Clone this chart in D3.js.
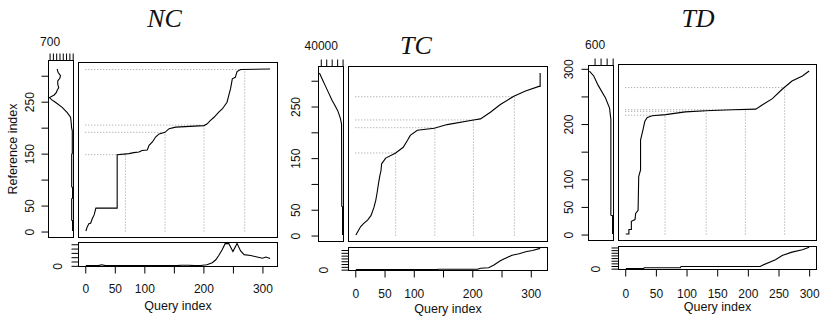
<!DOCTYPE html>
<html>
<head>
<meta charset="utf-8">
<script src="https://cdnjs.cloudflare.com/ajax/libs/d3/7.8.5/d3.min.js"></script>
<style>
  body { margin: 0; background: #fff; }
  svg text { font-family: "Liberation Sans", Arial, sans-serif; fill: #111; }
</style>
</head>
<body>
<svg id="chart" width="820" height="320"></svg>
<script>
// ---- data ----
const indexTicks = [0, 50, 100, 150, 200, 250, 300];

// NC
const ncQueryLen = 313, ncRefLen = 313;
const ncPathQ = [1, 3, 6, 9, 12, 15, 18, 54, 54, 74, 82, 91, 96, 105, 108, 114, 119, 125, 135, 142, 153, 201, 206, 212, 218, 226, 232, 240, 243, 246, 249, 254, 257, 263, 313];
const ncPathR = [1, 8, 15, 16, 25, 32, 45, 45, 148, 150, 152, 153, 156, 157, 166, 173, 182, 188, 191, 198, 201, 204, 207, 214, 220, 230, 236, 249, 262, 275, 294, 297, 308, 312, 313];
const ncMatchQ = [68, 135, 201, 270];
const ncMatchR = [148, 191, 205, 312];
const ncRefIdx = [1, 21, 22, 63, 64, 85, 86, 149, 150, 194, 200, 210, 220, 229, 239, 249, 254, 258, 263, 268, 272, 277, 283, 290, 295, 300, 306, 313];
const ncRefVal = [3, 3, 30, 30, 3, 3, 30, 30, 12, 12, 33, 45, 64, 165, 318, 524, 640, 705, 560, 493, 470, 423, 450, 453, 390, 370, 440, 472];
const ncQueryIdx = [1, 22, 28, 34, 100, 155, 162, 175, 185, 195, 206, 215, 221, 226, 232, 237, 243, 250, 257, 263, 269, 280, 291, 300, 306, 313];
const ncQueryVal = [5, 5, 25, 5, 5, 5, 15, 12, 5, 8, 26, 73, 140, 240, 380, 520, 515, 330, 520, 345, 260, 240, 205, 175, 205, 170];
const ncRefTicks = [0, 100, 200, 300, 400, 500, 600, 700];
const ncQueryTicks = [0, 100, 200, 300, 400, 500];

// TC
const tcQueryLen = 316, tcRefLen = 315;
const tcPathQ = [1, 9, 14, 21, 27, 32, 35, 37, 40, 42, 44, 45, 52, 69, 82, 89, 94, 106, 135, 157, 202, 214, 231, 248, 271, 291, 314, 316, 316];
const tcPathR = [1, 17, 23, 30, 39, 55, 68, 81, 103, 116, 126, 139, 150, 160, 171, 184, 194, 204, 208, 215, 224, 226, 239, 254, 270, 280, 289, 289, 315];
const tcMatchQ = [69, 136, 202, 272];
const tcMatchR = [160, 209, 224, 269];
const tcRefIdx = [1, 56, 57, 216, 226, 232, 242, 255, 262, 275, 291, 300, 315];
const tcRefVal = [0, 0, 1500, 1900, 3800, 5500, 8900, 15500, 19400, 25000, 32000, 36000, 42500];
const tcQueryIdx = [1, 140, 141, 209, 214, 228, 237, 248, 254, 268, 280, 293, 303, 316];
const tcQueryVal = [0, 0, 600, 700, 2500, 3500, 8400, 16000, 19000, 25800, 28500, 32300, 34200, 38000];
const tcRefTicks = [0, 10000, 20000, 30000, 40000];
const tcQueryTicks = [0, 5000, 10000, 15000, 20000, 25000, 30000, 35000];

// TD
const tdQueryLen = 300, tdRefLen = 296;
const tdPathQ = [1, 6, 6, 10, 10, 16, 17, 21, 22, 25, 25, 29, 32, 36, 44, 66, 98, 131, 175, 213, 224, 240, 256, 272, 289, 300];
const tdPathR = [1, 1, 9, 9, 24, 27, 38, 44, 105, 117, 171, 190, 205, 212, 215, 217, 222, 224, 226, 227, 235, 246, 263, 278, 287, 296];
const tdMatchQ = [65, 132, 196, 260];
const tdMatchR = [216, 223, 226, 266];
const tdRefIdx = [1, 34, 35, 210, 213, 229, 247, 270, 287, 296];
const tdRefVal = [3, 3, 60, 60, 70, 103, 237, 480, 627, 770];
const tdQueryIdx = [1, 30, 31, 90, 91, 220, 223, 245, 256, 272, 289, 300];
const tdQueryVal = [0, 0, 35, 35, 80, 80, 120, 335, 500, 625, 715, 805];
const tdRefTicks = [0, 200, 400, 600];
const tdQueryTicks = [0, 100, 200, 300, 400, 500, 600, 700, 800];

// ---- panel layout ----
const panels = [
  {
    title: 'NC', titleX: 164.5, titleY: 27, ylab: true,
    queryLen: ncQueryLen, refLen: ncRefLen,
    pathQ: ncPathQ, pathR: ncPathR, matchQ: ncMatchQ, matchR: ncMatchR,
    refIdx: ncRefIdx, refVal: ncRefVal, queryIdx: ncQueryIdx, queryVal: ncQueryVal,
    refTicks: ncRefTicks, refLabels: [700], queryTicks: ncQueryTicks,
    xLabels: [0, 50, 100, 200, 300], yLabels: [0, 50, 150, 250],
    leftLeft: 48.5, leftRight: 73.5, leftTop: 60.5,
    mainLeft: 78.5, mainRight: 277.5, mainTop: 62.5, mainBottom: 237.5,
    botTop: 242.5, botBottom: 266.5,
    topGap: 15, leftGap: 14.5, botGap: 17, xTickGap: 26.5, xlabY: 309.5
  },
  {
    title: 'TC', titleX: 416, titleY: 54, ylab: false,
    queryLen: tcQueryLen, refLen: tcRefLen,
    pathQ: tcPathQ, pathR: tcPathR, matchQ: tcMatchQ, matchR: tcMatchR,
    refIdx: tcRefIdx, refVal: tcRefVal, queryIdx: tcQueryIdx, queryVal: tcQueryVal,
    refTicks: tcRefTicks, refLabels: [40000], queryTicks: tcQueryTicks,
    xLabels: [0, 50, 100, 200, 300], yLabels: [0, 50, 150, 250],
    leftLeft: 318.5, leftRight: 343.5, leftTop: 66.5,
    mainLeft: 348.5, mainRight: 547.5, mainTop: 66.5, mainBottom: 241.5,
    botTop: 247.5, botBottom: 270.5,
    topGap: 16.5, leftGap: 18.4, botGap: 20.4, xTickGap: 27.5, xlabY: 313
  },
  {
    title: 'TD', titleX: 698, titleY: 27, ylab: false,
    queryLen: tdQueryLen, refLen: tdRefLen,
    pathQ: tdPathQ, pathR: tdPathR, matchQ: tdMatchQ, matchR: tdMatchR,
    refIdx: tdRefIdx, refVal: tdRefVal, queryIdx: tdQueryIdx, queryVal: tdQueryVal,
    refTicks: tdRefTicks, refLabels: [600], queryTicks: tdQueryTicks,
    xLabels: [0, 50, 100, 150, 200, 250, 300], yLabels: [0, 50, 100, 200, 300],
    leftLeft: 588.5, leftRight: 613.5, leftTop: 65.5,
    mainLeft: 618.5, mainRight: 816.5, mainTop: 64.5, mainBottom: 240.5,
    botTop: 246.5, botBottom: 269.5,
    topGap: 17, leftGap: 16, botGap: 19, xTickGap: 28.5, xlabY: 311
  }
];

const svg = d3.select('#chart');

// R pads axis ranges by 4% on each side
function padDomain(lo, hi) {
  const d = (hi - lo) * 0.04;
  return [lo - d, hi + d];
}

// R drops labels that would overlap; keep only the ones shown
function labelIf(shown) {
  return d => shown.includes(d) ? String(d) : '';
}

function rotateLabels(axisG, gap) {
  axisG.selectAll('text')
    .attr('transform', 'rotate(-90)')
    .attr('x', 0)
    .attr('y', -gap)
    .attr('dy', 0)
    .attr('text-anchor', 'middle');
}

function styleAxis(axisG) {
  axisG.attr('font-size', 12);
  axisG.select('.domain').remove();
  axisG.selectAll('line').attr('stroke', '#000');
}

function box(g, x0, x1, y0, y1) {
  g.append('rect')
    .attr('x', x0).attr('y', y0)
    .attr('width', x1 - x0).attr('height', y1 - y0)
    .attr('fill', 'none')
    .attr('stroke', '#000')
    .attr('stroke-width', 1);
}

function drawPanel(p) {
  const g = svg.append('g');

  const x = d3.scaleLinear().domain(padDomain(1, p.queryLen)).range([p.mainLeft, p.mainRight]);
  const y = d3.scaleLinear().domain(padDomain(1, p.refLen)).range([p.mainBottom, p.mainTop]);

  // dotted match lines
  const matches = d3.zip(p.matchQ, p.matchR);
  const dots = g.append('g')
    .attr('stroke', '#9a9a9a')
    .attr('stroke-width', 1)
    .attr('stroke-dasharray', '1,2');
  dots.selectAll('.mv').data(matches).enter().append('line')
    .attr('x1', d => x(d[0])).attr('x2', d => x(d[0]))
    .attr('y1', y(0)).attr('y2', d => y(d[1]));
  dots.selectAll('.mh').data(matches).enter().append('line')
    .attr('x1', x(0)).attr('x2', d => x(d[0]))
    .attr('y1', d => y(d[1])).attr('y2', d => y(d[1]));

  // warping path
  const line = d3.line().x(d => x(d[0])).y(d => y(d[1]));
  g.append('path')
    .datum(d3.zip(p.pathQ, p.pathR))
    .attr('fill', 'none')
    .attr('stroke', '#000')
    .attr('stroke-width', 1.1)
    .attr('d', line);
  box(g, p.mainLeft, p.mainRight, p.mainTop, p.mainBottom);

  // reference series, drawn sideways with reversed value axis
  const vx = d3.scaleLinear()
    .domain(padDomain(d3.min(p.refVal), d3.max(p.refVal)).reverse())
    .range([p.leftLeft, p.leftRight]);
  g.append('path')
    .datum(d3.zip(p.refVal, p.refIdx))
    .attr('fill', 'none')
    .attr('stroke', '#000')
    .attr('stroke-width', 1.1)
    .attr('d', d3.line().x(d => vx(d[0])).y(d => y(d[1])));
  box(g, p.leftLeft, p.leftRight, p.leftTop, p.mainBottom);

  g.append('g')
    .attr('transform', `translate(0,${p.leftTop})`)
    .call(d3.axisTop(vx).tickValues(p.refTicks).tickSize(7).tickSizeOuter(0).tickFormat(labelIf(p.refLabels)))
    .call(styleAxis)
    .call(a => a.selectAll('text').attr('y', -p.topGap).attr('dy', 0));

  g.append('g')
    .attr('transform', `translate(${p.leftLeft},0)`)
    .call(d3.axisLeft(y).tickValues(indexTicks).tickSize(7).tickSizeOuter(0).tickFormat(labelIf(p.yLabels)))
    .call(styleAxis)
    .call(a => rotateLabels(a, p.leftGap));

  // query series under the main plot
  const qy = d3.scaleLinear()
    .domain(padDomain(d3.min(p.queryVal), d3.max(p.queryVal)))
    .range([p.botBottom, p.botTop]);
  g.append('path')
    .datum(d3.zip(p.queryIdx, p.queryVal))
    .attr('fill', 'none')
    .attr('stroke', '#000')
    .attr('stroke-width', 1.1)
    .attr('d', d3.line().x(d => x(d[0])).y(d => qy(d[1])));
  box(g, p.mainLeft, p.mainRight, p.botTop, p.botBottom);

  g.append('g')
    .attr('transform', `translate(0,${p.botBottom})`)
    .call(d3.axisBottom(x).tickValues(indexTicks).tickSize(7).tickSizeOuter(0).tickFormat(labelIf(p.xLabels)))
    .call(styleAxis)
    .call(a => a.selectAll('text').attr('y', p.xTickGap).attr('dy', 0));

  g.append('g')
    .attr('transform', `translate(${p.mainLeft},0)`)
    .call(d3.axisLeft(qy).tickValues(p.queryTicks).tickSize(7).tickSizeOuter(0).tickFormat(labelIf([0])))
    .call(styleAxis)
    .call(a => rotateLabels(a, p.botGap));

  // titles and axis names
  g.append('text')
    .attr('x', p.titleX).attr('y', p.titleY)
    .attr('text-anchor', 'middle')
    .style('font-family', '"Liberation Serif", "Times New Roman", serif')
    .style('font-style', 'italic')
    .style('font-size', '26px')
    .text(p.title);

  g.append('text')
    .attr('x', (p.mainLeft + p.mainRight) / 2).attr('y', p.xlabY)
    .attr('text-anchor', 'middle')
    .attr('font-size', 12.5)
    .text('Query index');

  if (p.ylab) {
    g.append('text')
      .attr('transform', `translate(16.5,${(p.leftTop + p.mainBottom) / 2}) rotate(-90)`)
      .attr('text-anchor', 'middle')
      .attr('font-size', 12.5)
      .text('Reference index');
  }
}

panels.forEach(drawPanel);
</script>
</body>
</html>
